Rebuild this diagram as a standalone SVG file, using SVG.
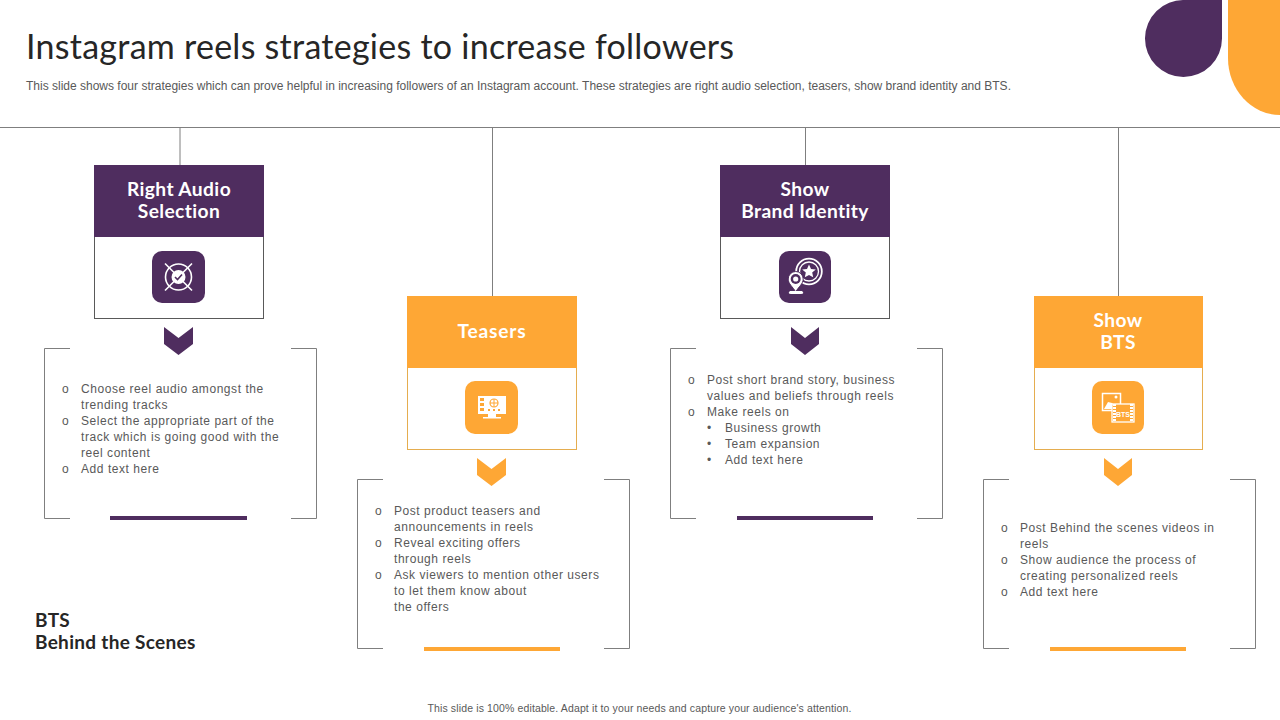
<svg xmlns="http://www.w3.org/2000/svg" width="1280" height="720" viewBox="0 0 1280 720">
<style>
.t{font-family:"Lato","Open Sans",sans-serif}
.b{font-family:"Liberation Sans",Arial,sans-serif;font-size:12px;fill:#595959;letter-spacing:.55px}
.h{font-family:"Lato","Open Sans",sans-serif;font-size:19.200px;font-weight:700;fill:#fff;text-anchor:middle;letter-spacing:.4px}
.p{fill:#4f2d5f}.o{fill:#fea735}
.ln{stroke:#7f7f7f;stroke-width:1;fill:none}
.bk{stroke:#7f7f7f;stroke-width:1;fill:none}
.ic{fill:none;stroke:#fff;stroke-width:1.6}
</style>
<rect width="1280" height="720" fill="#fff"/>
<g id="decor">
<path class="p" d="M1184 0H1222V38.500A38.500 38.500 0 1 1 1184 0Z"/>
<path class="o" d="M1228 0H1280V115A52 57 0 0 1 1228 58Z"/>
</g>
<text class="t" x="26" y="59" font-size="34" fill="#262626" letter-spacing=".26">Instagram reels strategies to increase followers</text>
<text x="26" y="90" class="b" style="letter-spacing:0">This slide shows four strategies which can prove helpful in increasing followers of an Instagram account. These strategies are right audio selection, teasers, show brand identity and BTS.</text>
<g id="connectors">
<path class="ln" d="M0 127.500H1280M180 127V165M492.500 127V296M805.500 127V165M1118.500 127V296"/>
</g>

<g id="node-audio">
<rect x="94.500" y="165.500" width="169" height="153" fill="#fff" stroke="#595959"/>
<rect class="p" x="94" y="165" width="170" height="72"/>
<text class="h" x="179" y="196">Right Audio</text><text class="h" x="179" y="218">Selection</text>
<rect class="p" x="152" y="251" width="53" height="52" rx="10"/>
<g class="ic"><circle cx="178.500" cy="277" r="13"/><path d="M165 263.500L192 290.500M192 263.500L165 290.500"/></g>
<circle cx="178.500" cy="277" r="7" fill="#fff"/><path d="M175 277l2.500 2.500 4.500-5" fill="none" stroke="#4f2d5f" stroke-width="1.600"/>
<path class="p" d="M164 327L178.500 338 193 327V344L178.500 355 164 344Z"/>
<path class="bk" d="M70 348.500H44.500V518.500H70M291 348.500H316.500V518.500H291"/>
<rect class="p" x="110" y="516" width="137" height="4"/>
<g class="b">
<text x="62" y="393">o</text><text x="81" y="393">Choose reel audio amongst the</text>
<text x="81" y="409">trending tracks</text>
<text x="62" y="425">o</text><text x="81" y="425">Select the appropriate part of the</text>
<text x="81" y="441">track which is going good with the</text>
<text x="81" y="457">reel content</text>
<text x="62" y="473">o</text><text x="81" y="473">Add text here</text>
</g>
</g>

<g id="node-teasers">
<rect x="407.500" y="296.500" width="169" height="153" fill="#fff" stroke="#e5ad4f"/>
<rect class="o" x="407" y="296" width="170" height="72"/>
<text class="h" x="492" y="338" style="letter-spacing:.8px">Teasers</text>
<rect class="o" x="465" y="381" width="53" height="53" rx="10"/>
<rect x="478" y="396" width="28" height="18" fill="#fff"/>
<path d="M488 414h8v3h5v1.500h-18v-1.500h5z" fill="#fff"/>
<g fill="#fea735"><rect x="480" y="398" width="4" height="3"/><rect x="480" y="403" width="4" height="3"/><rect x="480" y="408" width="4" height="3"/><rect x="488" y="409" width="2" height="2"/><rect x="493" y="409" width="2" height="2"/><rect x="498" y="409" width="2" height="2"/></g>
<circle cx="494" cy="403" r="4" fill="none" stroke="#fea735" stroke-width="1.200"/><path d="M490 403h8M494 399v8" stroke="#fea735"/>
<path class="o" d="M477 458L491.500 469 506 458V475L491.500 486 477 475Z"/>
<path class="bk" d="M383 479.500H357.500V648.500H383M604 479.500H629.500V648.500H604"/>
<rect class="o" x="424" y="647" width="136" height="4"/>
<g class="b">
<text x="375" y="515">o</text><text x="394" y="515">Post product teasers and</text>
<text x="394" y="531">announcements in reels</text>
<text x="375" y="547">o</text><text x="394" y="547">Reveal exciting offers</text>
<text x="394" y="563">through reels</text>
<text x="375" y="579">o</text><text x="394" y="579">Ask viewers to mention other users</text>
<text x="394" y="595">to let them know about</text>
<text x="394" y="611">the offers</text>
</g>
</g>

<g id="node-brand">
<rect x="720.500" y="165.500" width="169" height="153" fill="#fff" stroke="#595959"/>
<rect class="p" x="720" y="165" width="170" height="72"/>
<text class="h" x="805" y="196">Show</text><text class="h" x="805" y="218">Brand Identity</text>
<rect class="p" x="779" y="251" width="52" height="52" rx="10"/>
<circle cx="809" cy="271.500" r="12.800" fill="none" stroke="#fff" stroke-width="1.800"/><circle cx="809" cy="271.500" r="9.500" fill="none" stroke="#fff" stroke-width="1.300"/>
<path d="M809 264.500l2 4.400 4.800.5-3.600 3.200 1 4.700-4.200-2.400-4.200 2.400 1-4.700-3.600-3.200 4.800-.5z" fill="#fff"/>
<path d="M795.700 271.500a7.500 7.500 0 0 1 7.500 7.500c0 5-4.500 7.500-7.500 13-3-5.500-7.500-8-7.500-13a7.500 7.500 0 0 1 7.500-7.500z" fill="#fff" stroke="#4f2d5f"/>
<circle cx="795.700" cy="279" r="5" fill="#4f2d5f"/><circle cx="795.700" cy="279" r="2.600" fill="#fff"/>
<path d="M790 291q-3 2.500 1 3h10q4-.5 1-3" fill="#fff"/>
<path class="p" d="M791 327L805 338 819 327V344L805 355 791 344Z"/>
<path class="bk" d="M696 348.500H670.500V518.500H696M917 348.500H942.500V518.500H917"/>
<rect class="p" x="737" y="516" width="136" height="4"/>
<g class="b">
<text x="688" y="384">o</text><text x="707" y="384">Post short brand story, business</text>
<text x="707" y="400">values and beliefs through reels</text>
<text x="688" y="416">o</text><text x="707" y="416">Make reels on</text>
<text x="707" y="432">•</text><text x="725" y="432">Business growth</text>
<text x="707" y="448">•</text><text x="725" y="448">Team expansion</text>
<text x="707" y="464">•</text><text x="725" y="464">Add text here</text>
</g>
</g>

<g id="node-bts">
<rect x="1034.500" y="296.500" width="168" height="153" fill="#fff" stroke="#e5ad4f"/>
<rect class="o" x="1034" y="296" width="169" height="72"/>
<text class="h" x="1118" y="327">Show</text><text class="h" x="1118" y="349">BTS</text>
<rect class="o" x="1092" y="381" width="52" height="53" rx="10"/>
<rect x="1102.500" y="393.500" width="18" height="17" fill="none" stroke="#fff" stroke-width="1.500"/>
<path d="M1104 409l4-7 4 1 4 4v2z" fill="#fff"/><circle cx="1116" cy="397" r="1.500" fill="#fff"/>
<rect x="1112" y="404" width="22" height="18" fill="#fea735" stroke="#fff" stroke-width="1.300"/>
<path d="M1114.500 404v18M1131.500 404v18" stroke="#fff" stroke-width="3" stroke-dasharray="2 1"/>
<text x="1123" y="416.500" font-family="Liberation Sans,sans-serif" font-size="7" font-weight="700" fill="#fff" text-anchor="middle">BTS</text>
<path class="o" d="M1104 458L1118 469 1132 458V475L1118 486 1104 475Z"/>
<path class="bk" d="M1009 479.500H983.500V648.500H1009M1230 479.500H1255.500V648.500H1230"/>
<rect class="o" x="1050" y="647" width="136" height="4"/>
<g class="b">
<text x="1001" y="532">o</text><text x="1020" y="532">Post Behind the scenes videos in</text>
<text x="1020" y="548">reels</text>
<text x="1001" y="564">o</text><text x="1020" y="564">Show audience the process of</text>
<text x="1020" y="580">creating personalized reels</text>
<text x="1001" y="596">o</text><text x="1020" y="596">Add text here</text>
</g>
</g>

<text class="t" x="35" y="627" font-size="19" font-weight="700" fill="#262626" letter-spacing=".3">BTS</text>
<text class="t" x="35" y="649" font-size="19" font-weight="700" fill="#262626" letter-spacing=".3">Behind the Scenes</text>
<text x="639.500" y="712" class="b" text-anchor="middle" style="font-size:10.500px;letter-spacing:.13px">This slide is 100% editable. Adapt it to your needs and capture your audience's attention.</text>
</svg>
